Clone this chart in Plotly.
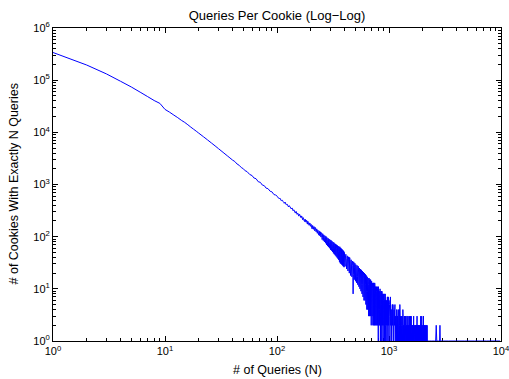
import plotly.graph_objects as go

# ---- data ----
n_head = list(range(1, 21)) + [22, 24, 26, 28, 30, 33, 36, 38, 40, 42, 44, 46, 48, 50,
                              52, 54, 57, 60, 62, 65, 68, 71, 74, 77, 80, 83, 87, 90, 94, 97]
c_head = [339000, 195000, 131800, 95500, 74100, 58900, 48400, 40700, 35900, 27500,
          24300, 21400, 19100, 17000, 15500, 13960, 12590, 11480, 10520, 9660,
          8260, 7145, 6240, 5500, 4875, 4130, 3550, 3230, 2950, 2760, 2470, 2330, 2110, 2010,
          1830, 1770, 1560, 1480, 1340, 1290, 1130, 1100, 975, 950, 850, 835, 740, 725, 640, 630]

n_mid = list(range(100, 400, 3))
c_mid = [601, 548, 540, 489, 497, 452, 461, 408, 415, 371,
         382, 347, 355, 314, 327, 289, 305, 268, 281, 247,
         263, 236, 248, 212, 231, 199, 218, 190, 206, 174,
         192, 165, 183, 158, 172, 143, 164, 139, 156, 130,
         148, 124, 141, 116, 133, 110, 129, 104, 124, 98,
         117, 88, 114, 84, 108, 79, 104, 75, 101, 70,
         96, 66, 93, 63, 90, 60, 87, 56, 85, 54,
         82, 51, 79, 48, 77, 46, 74, 44, 72, 42,
         70, 40, 68, 38, 66, 36, 64, 33, 64, 31,
         61, 30, 59, 29, 57, 28, 55, 27, 53, 26]

n_mid2 = list(range(101, 400, 3))
c_mid2 = [587, 539, 539, 493, 476, 436, 442, 413, 390, 394,
          371, 340, 352, 320, 313, 283, 298, 277, 261, 271,
          254, 230, 246, 220, 219, 195, 213, 197, 185, 198,
          185, 166, 183, 161, 162, 141, 160, 147, 137, 152,
          141, 124, 141, 123, 124, 107, 125, 114, 106, 120,
          109, 96, 111, 95, 96, 81, 99, 89, 82, 96,
          87, 74, 90, 75, 77, 63, 80, 71, 65, 78,
          71, 59, 74, 60, 63, 50, 67, 58, 52, 66,
          59, 48, 63, 50, 52, 40, 56, 48, 44, 57,
          49, 39, 53, 42, 44, 33, 48, 41, 36, 49]

n_low = list(range(400, 1001, 6))
c_low = [50, 27, 46, 24, 43, 22, 41, 20, 38, 18,
         36, 17, 34, 8, 33, 15, 31, 14, 29, 13,
         28, 12, 27, 11, 25, 10, 24, 9, 23, 8,
         22, 7, 21, 6, 20, 6, 19, 5, 18, 4,
         17, 4, 16, 3, 16, 3, 15, 3, 14, 2,
         14, 3, 13, 2, 13, 2, 12, 2, 12, 2,
         11, 2, 11, 2, 10, 2, 10, 1, 9, 2,
         9, 2, 10, 1, 8, 2, 9, 1, 8, 2,
         7, 1, 8, 2, 7, 1, 6, 2, 7, 1,
         6, 2, 5, 1, 6, 2, 7, 1, 5, 2,
         6]

n_low2 = list(range(403, 1000, 6))
c_low2 = [32, 43, 38, 26, 42, 36, 30, 40, 23, 34,
          24, 31, 28, 19, 30, 26, 22, 29, 17, 25,
          17, 23, 21, 13, 24, 20, 16, 23, 12, 19,
          12, 18, 16, 9, 18, 15, 12, 18, 9, 15,
          9, 14, 12, 7, 15, 12, 9, 15, 7, 13,
          7, 12, 10, 5, 13, 10, 8, 13, 5, 11,
          6, 10, 9, 4, 11, 8, 6, 11, 4, 9,
          4, 8, 7, 3, 9, 7, 5, 9, 3, 8,
          4, 7, 6, 2, 8, 6, 4, 8, 2, 6,
          3, 6, 5, 2, 7, 5, 3, 7, 2, 5]

n_tail = list(range(1010, 2201, 10))
c_tail = [5, 1, 7, 2, 4, 1, 5, 2, 4, 1,
          4, 2, 5, 1, 3, 1, 4, 2, 3, 1,
          4, 1, 3, 2, 5, 1, 3, 1, 2, 1,
          3, 1, 4, 1, 2, 1, 3, 1, 2, 1,
          3, 1, 2, 1, 3, 2, 1, 3, 1, 2,
          1, 3, 1, 2, 1, 2, 1, 3, 1, 2,
          1, 2, 1, 2, 1, 3, 1, 1, 2, 1,
          2, 1, 2, 1, 1, 2, 1, 3, 1, 2,
          1, 2, 1, 1, 2, 1, 2, 1, 1, 2,
          1, 3, 1, 2, 1, 3, 1, 2, 1, 1,
          2, 1, 3, 1, 2, 1, 1, 2, 1, 2,
          1, 1, 2, 1, 1, 2, 1, 1, 2, 1]

n_tail2 = list(range(1015, 2200, 10))
c_tail2 = [3, 6, 2, 4, 1, 3, 2, 5, 1, 3,
           2, 4, 1, 3, 2, 1, 4, 1, 2, 3,
           1, 2, 4, 1, 3, 1, 2, 3, 1, 2,
           2, 1, 3, 2, 1, 2, 1, 3, 1, 2,
           1, 2, 1, 3, 1, 1, 2, 1, 2, 1,
           2, 1, 2, 1, 3, 1, 2, 1, 1, 2,
           1, 1, 2, 1, 2, 1, 1, 2, 1, 1,
           2, 1, 1, 2, 1, 1, 2, 1, 2, 1,
           1, 1, 2, 1, 1, 2, 1, 1, 2, 1,
           2, 1, 1, 2, 1, 1, 2, 1, 1, 1,
           1, 2, 1, 1, 2, 1, 1, 1, 2, 1,
           1, 2, 1, 1, 1, 2, 1, 1, 1]

n_sparse = [2240, 2310, 2390, 2470, 2550, 2610, 2640, 2670, 2760, 2830, 2850, 2870,
            3050, 3400, 3900, 4700, 5800, 7400, 9800]
c_sparse = [1, 1, 1, 1, 1, 1, 2, 1, 1, 1, 2, 1, 1, 1, 1, 1, 1, 1, 1]

x_tick_vals = [1, 10, 100, 1000, 10000]
x_tick_text = ["10<sup>0</sup>", "10<sup>1</sup>", "10<sup>2</sup>", "10<sup>3</sup>", "10<sup>4</sup>"]
y_tick_vals = [1, 10, 100, 1000, 10000, 100000, 1000000]
y_tick_text = ["10<sup>0</sup>", "10<sup>1</sup>", "10<sup>2</sup>", "10<sup>3</sup>",
               "10<sup>4</sup>", "10<sup>5</sup>", "10<sup>6</sup>"]

title_text = "Queries Per Cookie (Log\u2212Log)"
x_label = "# of Queries (N)"
y_label = "# of Cookies With Exactly N Queries"

# ---- build ----
pairs = []
for ns, cs in [(n_head, c_head), (n_mid, c_mid), (n_mid2, c_mid2), (n_low, c_low),
               (n_low2, c_low2), (n_tail, c_tail), (n_tail2, c_tail2), (n_sparse, c_sparse)]:
    for n, c in zip(ns, cs):
        if c > 0:
            pairs.append((n, c))
pairs.sort()
N = [p[0] for p in pairs]
C = [p[1] for p in pairs]

FONT = "Liberation Sans, Arial, Helvetica, sans-serif"

fig = go.Figure()
fig.add_trace(go.Scatter(x=N, y=C, mode="lines",
                         line=dict(color="#0000ff", width=1, simplify=False),
                         showlegend=False, hoverinfo="skip"))

minor_x = [m * 10 ** e for e in range(0, 4) for m in range(2, 10)]
minor_y = [m * 10 ** e for e in range(0, 6) for m in range(2, 10)]

axis_common = dict(showgrid=False, zeroline=False, showline=True, linecolor="black",
                   linewidth=1, mirror="ticks", ticks="inside", ticklen=5, tickwidth=1,
                   tickcolor="black", ticklabeloverflow="allow",
                   tickfont=dict(family=FONT, size=11, color="black"))

fig.update_xaxes(type="log", range=[0, 4], tickmode="array", tickvals=x_tick_vals,
                 ticktext=x_tick_text, layer="below traces",
                 minor=dict(tickmode="array", tickvals=minor_x, ticks="inside", ticklen=3,
                            tickcolor="black", tickwidth=1, showgrid=False),
                 **axis_common)
fig.update_yaxes(type="log", range=[0, 6], tickmode="array", tickvals=y_tick_vals,
                 ticktext=y_tick_text,
                 minor=dict(tickmode="array", tickvals=minor_y, ticks="inside", ticklen=3,
                            tickcolor="black", tickwidth=1, showgrid=False),
                 **axis_common)

fig.update_layout(
    width=509, height=379,
    margin=dict(l=53, r=8, t=28, b=38, autoexpand=False),
    paper_bgcolor="white", plot_bgcolor="white",
    font=dict(family=FONT, color="black"),
    title=dict(text=title_text, x=0.5, xref="paper", xanchor="center",
               y=1 - 15 / 379, yref="container", yanchor="middle",
               font=dict(family=FONT, size=13, color="black")),
    annotations=[
        dict(text=x_label, xref="paper", yref="paper", x=0.5, y=-29 / 313,
             xanchor="center", yanchor="middle", showarrow=False,
             font=dict(family=FONT, size=12.5, color="black")),
        dict(text=y_label, xref="paper", yref="paper", x=-40 / 448, y=0.5,
             xanchor="center", yanchor="middle", showarrow=False, textangle=-90,
             font=dict(family=FONT, size=12.5, color="black")),
    ],
)

fig.write_html("out.html",
               config={"displayModeBar": False, "staticPlot": True},
               post_script="document.body.style.margin='0';document.body.style.padding='0';"
                           "document.documentElement.style.overflow='hidden';")
